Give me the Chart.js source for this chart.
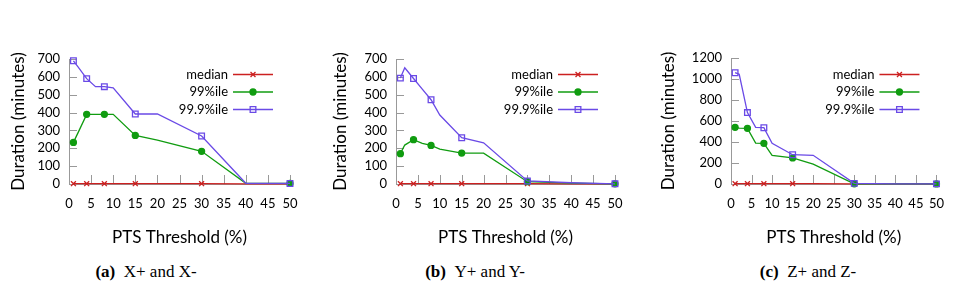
<!DOCTYPE html>
<html>
<head>
<meta charset="utf-8">
<script src="https://cdn.jsdelivr.net/npm/chart.js"></script>
<style>
  body { margin: 0; width: 956px; height: 286px; background: #fff; position: relative; overflow: hidden; }
  canvas { position: absolute; top: 0; }
  .cap { position: absolute; top: 263px; line-height: 18px; font-family: 'Liberation Serif', serif; font-size: 17px; white-space: nowrap; transform: translateX(-50%); }
</style>
</head>
<body>
<canvas id="c1" width="320" height="260" style="left:0"></canvas>
<canvas id="c2" width="320" height="260" style="left:320px"></canvas>
<canvas id="c3" width="316" height="260" style="left:640px"></canvas>
<div class="cap" style="left:146px"><b>(a)</b>&ensp;X+ and X-</div>
<div class="cap" style="left:475px"><b>(b)</b>&ensp;Y+ and Y-</div>
<div class="cap" style="left:808px"><b>(c)</b>&ensp;Z+ and Z-</div>
<script>
// ---- data ----
const thresholds = [1, 2, 4, 6, 8, 10, 15, 20, 30, 40, 50];
const seriesNames = ['median', '99%ile', '99.9%ile'];
const xTicks = [0, 5, 10, 15, 20, 25, 30, 35, 40, 45, 50];
const yTicksXY = [0, 100, 200, 300, 400, 500, 600, 700];
const yTicksZ = [0, 200, 400, 600, 800, 1000, 1200];

// (a) X+ and X-
const xMedian = [2, 2, 2, 2, 2, 2, 2, 2, 2, 1, 1];
const x99 = [233, 285, 390, 390, 390, 390, 272, 246, 183, 4, 3];
const x999 = [690, 657, 590, 545, 545, 538, 392, 392, 269, 4, 3];

// (b) Y+ and Y-
const yMedian = [2, 2, 2, 2, 2, 2, 2, 2, 2, 1, 1];
const y99 = [170, 218, 248, 228, 216, 195, 173, 173, 13, 5, 1];
const y999 = [593, 651, 591, 531, 472, 386, 259, 231, 17, 7, 1];

// (c) Z+ and Z-
const zMedian = [3, 3, 3, 3, 3, 3, 3, 3, 2, 1, 1];
const z99 = [540, 533, 530, 390, 387, 273, 248, 190, 2, 1, 1];
const z999 = [1060, 1045, 680, 540, 536, 387, 279, 273, 6, 2, 1];

const colors = ['#cc2020', '#109c10', '#6a4ae6'];
const styles = ['crossRot', 'circle', 'rect'];
const sizes = [3.5, 3, 4];

Chart.defaults.font.family = 'Lato, "DejaVu Sans", sans-serif';
Chart.defaults.color = '#000';

// little tick marks pointing into the plot, like gnuplot
const innerTicks = {
    id: 'innerTicks',
    beforeDatasetsDraw(chart) {
        const { ctx, chartArea, scales } = chart;
        ctx.save();
        ctx.strokeStyle = '#999';
        ctx.lineWidth = 1;
        ctx.beginPath();
        scales.x.ticks.forEach(t => {
            const px = Math.round(scales.x.getPixelForValue(t.value)) + 0.5;
            ctx.moveTo(px, chartArea.bottom);
            ctx.lineTo(px, chartArea.bottom - 9);
        });
        scales.y.ticks.forEach(t => {
            const py = Math.round(scales.y.getPixelForValue(t.value)) + 0.5;
            ctx.moveTo(chartArea.left, py);
            ctx.lineTo(chartArea.left + 8, py);
        });
        ctx.stroke();
        ctx.restore();
    }
};

// legend inside the plot, text right aligned before the sample line
const innerLegend = {
    id: 'innerLegend',
    afterDatasetsDraw(chart) {
        const { ctx, chartArea } = chart;
        chart.data.datasets.forEach((ds, i) => {
            const y = 74.5 + i * 17.5;
            const x1 = chartArea.right - 57, x2 = chartArea.right - 17;
            ctx.save();
            ctx.font = '13px Lato';
            ctx.fillStyle = '#000';
            ctx.textAlign = 'right';
            ctx.textBaseline = 'middle';
            ctx.fillText(ds.label, chartArea.right - 62, y);
            ctx.strokeStyle = ds.borderColor;
            ctx.lineWidth = ds.borderWidth;
            ctx.beginPath();
            ctx.moveTo(x1, y);
            ctx.lineTo(x2, y);
            ctx.stroke();
            ctx.fillStyle = ds.pointBackgroundColor;
            Chart.helpers.drawPoint(ctx, { pointStyle: ds.pointStyle, radius: sizes[i], borderWidth: ds.borderWidth, rotation: 0 }, (x1 + x2) / 2, y);
            ctx.restore();
        });
    }
};

function makePanel(id, values, yTicks, yWidth, titlePad, rightPad, topPad) {
    const datasets = values.map((vals, i) => ({
        label: seriesNames[i],
        data: thresholds.map((t, k) => ({ x: t, y: vals[k] })),
        borderColor: colors[i],
        borderWidth: 1.3,
        pointStyle: styles[i],
        pointBorderColor: colors[i],
        pointBackgroundColor: i === 1 ? colors[i] : 'rgba(0,0,0,0)',
        pointRadius: ctx => ctx.dataIndex % 2 === 0 ? sizes[i] : 0,
        pointBorderWidth: 1.3,
        tension: 0,
        clip: false,
        order: 3 - i
    }));

    new Chart(document.getElementById(id), {
        type: 'line',
        data: { datasets },
        options: {
            responsive: false,
            animation: false,
            layout: { padding: { left: 0, right: rightPad, top: topPad, bottom: 0 } },
            plugins: { legend: { display: false }, tooltip: { enabled: false } },
            scales: {
                x: {
                    type: 'linear', min: 0, max: 50,
                    afterBuildTicks: s => { s.ticks = xTicks.map(v => ({ value: v })); },
                    afterFit: s => { s.height = 76; },
                    grid: { display: false, drawTicks: false },
                    border: { color: '#999', width: 1 },
                    ticks: { padding: 12, font: { size: 13 }, maxRotation: 0, autoSkip: false, callback: v => String(v) },
                    title: { display: true, text: 'PTS Threshold (%)', font: { size: 17 }, padding: { top: 0, bottom: 12 } }
                },
                y: {
                    min: 0, max: yTicks[yTicks.length - 1],
                    afterBuildTicks: s => { s.ticks = yTicks.map(v => ({ value: v })); },
                    afterFit: s => { s.width = yWidth; },
                    grid: { display: false, drawTicks: false },
                    border: { color: '#999', width: 1 },
                    ticks: { padding: 9, font: { size: 13 }, autoSkip: false, callback: v => String(v) },
                    title: { display: true, text: 'Duration (minutes)', font: { size: 17 }, padding: { top: titlePad, bottom: 0 } }
                }
            }
        },
        plugins: [innerTicks, innerLegend]
    });
}

makePanel('c1', [xMedian, x99, x999], yTicksXY, 69, 8, 30, 59);
makePanel('c2', [yMedian, y99, y999], yTicksXY, 76, 10, 25, 59);
makePanel('c3', [zMedian, z99, z999], yTicksZ, 91, 18, 15, 58);
</script>
</body>
</html>
